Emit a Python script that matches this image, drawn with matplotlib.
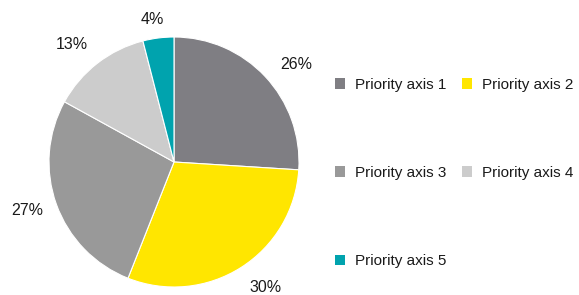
import numpy as np
import matplotlib.pyplot as plt

plt.rcParams['font.family'] = ['Liberation Sans', 'DejaVu Sans']

labels = ['Priority axis 1', 'Priority axis 2', 'Priority axis 3', 'Priority axis 4', 'Priority axis 5']
shares = [26, 30, 27, 13, 4]
colors = ['#7f7e83', '#ffe600', '#999999', '#cccccc', '#00a3ae']

W, H = 579, 295
fig = plt.figure(figsize=(W / 100, H / 100), dpi=100)

# pie centre ~ (174, 162) px, radius ~125 px
cx, cy, r = 174, 162, 125
ax = fig.add_axes([(cx - r) / W, (H - cy - r) / H, 2 * r / W, 2 * r / H])

wedges, texts = ax.pie(
    shares, colors=colors, startangle=90, counterclock=False,
    wedgeprops=dict(edgecolor='white', linewidth=0.8))
ax.set_xlim(-1, 1)
ax.set_ylim(-1, 1)
ax.set_aspect('equal')
ax.axis('off')

# data labels, roughly where the spreadsheet put them (radius, angle nudge)
lab_dist = [1.25, 1.24, 1.24, 1.245, 1.15]
lab_nudge = [-4.4, 3.7, -1.4, 3.3, 1.6]
for w, v, d, n in zip(wedges, shares, lab_dist, lab_nudge):
    ang = np.deg2rad((w.theta1 + w.theta2) / 2 + n)
    ax.text(d * np.cos(ang), d * np.sin(ang), '%d%%' % v, ha='center', va='center',
            fontsize=11.5, color='#1a1a1a', clip_on=False)

# row-wise legend: 1 2 / 3 4 / 5
order = [0, 2, 4, 1, 3]
leg = fig.legend([wedges[i] for i in order], [labels[i] for i in order],
                 ncol=2, loc='upper left', bbox_to_anchor=(335 / W, 1 - 78 / H),
                 frameon=False, fontsize=11, labelspacing=4.85,
                 handlelength=0.68, handleheight=0.68, handletextpad=0.6,
                 columnspacing=1.05, borderaxespad=0, borderpad=0)
for t in leg.get_texts():
    t.set_color('#1a1a1a')
for h in leg.legend_handles:
    h.set_edgecolor('none')

fig.savefig('out.png', dpi=100)
